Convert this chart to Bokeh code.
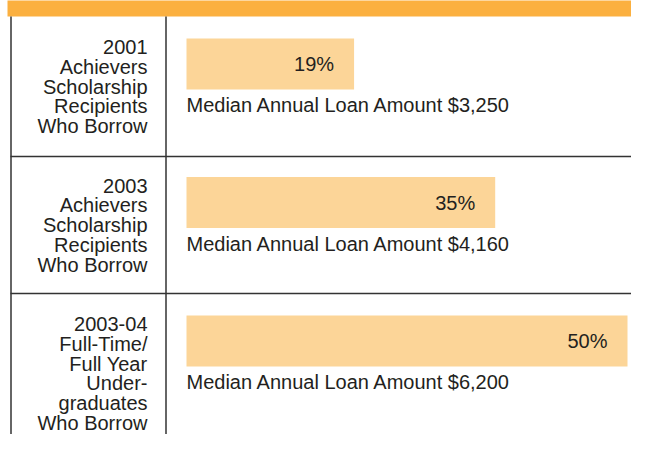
from bokeh.plotting import figure
from bokeh.models import Range1d
from bokeh.core.properties import value
from bokeh.embed import file_html
from bokeh.resources import INLINE

# ---- data ----
groups = [
    "2001\nAchievers\nScholarship\nRecipients\nWho Borrow",
    "2003\nAchievers\nScholarship\nRecipients\nWho Borrow",
    "2003-04\nFull-Time/\nFull Year\nUnder-\ngraduates\nWho Borrow",
]
percent_borrow = [19, 35, 50]
median_loan = ["$3,250", "$4,160", "$6,200"]

# ---- layout constants (pixel geometry of the reference) ----
PX_PER_PCT = 8.82     # horizontal scale
PX_PER_ROW = 138.5    # vertical spacing between rows
BAR_X0_PX = 186       # where 0% sits in picture px
ROW0_PX = 63.5        # centre of first bar in picture px
W, H = 631, 434
PAGE_L, PAGE_T = 0, 0

def px_to_x(px):
    return (px - BAR_X0_PX) / PX_PER_PCT

def px_to_y(px):
    return (px - ROW0_PX) / PX_PER_ROW

FONT = value("Liberation Sans")
FS = "20px"
TXT = "#231f20"
BAR = "#fcd598"
ORANGE = "#fbb040"
LINE = "#333333"

p = figure(width=W, height=H, output_backend="svg", toolbar_location=None,
           x_range=Range1d(px_to_x(PAGE_L), px_to_x(PAGE_L + W)),
           y_range=Range1d(px_to_y(PAGE_T + H), px_to_y(PAGE_T)),
           min_border=0)
p.axis.visible = False
p.grid.visible = False
p.outline_line_color = None
p.background_fill_color = "white"

# header band
p.quad(left=px_to_x(7), right=px_to_x(700), top=px_to_y(-10), bottom=px_to_y(16),
       fill_color=ORANGE, line_color=None)

rows = list(range(len(groups)))

# bars
p.hbar(y=rows, left=0, right=percent_borrow, height=51 / PX_PER_ROW,
       fill_color=BAR, line_color=None)

# percent labels inside bars
p.text(x=percent_borrow, y=rows, text=[f"{v}%" for v in percent_borrow],
       x_offset=-20, text_align="right", text_baseline="middle",
       text_font=FONT, text_font_size=FS, text_color=TXT)

# median loan lines
med_y = [r + 41 / PX_PER_ROW for r in rows]
p.text(x=[0] * len(rows), y=med_y,
       text=[f"Median Annual Loan Amount {m}" for m in median_loan],
       text_align="left", text_baseline="middle",
       text_font=FONT, text_font_size=FS, text_color=TXT)

# group labels (right aligned, one glyph per line)
lx, ly, lt = [], [], []
for r, g in zip(rows, groups):
    for k, line in enumerate(g.split("\n")):
        lx.append(px_to_x(147))
        ly.append(r + (-17 + 19.8 * k) / PX_PER_ROW)
        lt.append(line)
p.text(x=lx, y=ly, text=lt, text_align="right", text_baseline="middle",
       text_font=FONT, text_font_size=FS, text_color=TXT)

# grid lines of the table
vx = [px_to_x(10.5), px_to_x(165.5)]
for x in vx:
    p.line([x, x], [px_to_y(16), px_to_y(460)], line_color=LINE, line_width=1.5)
for yy in [156, 293]:
    p.line([px_to_x(10), px_to_x(700)], [px_to_y(yy), px_to_y(yy)],
           line_color=LINE, line_width=1.5)

open("out.html", "w").write(file_html(p, INLINE))
